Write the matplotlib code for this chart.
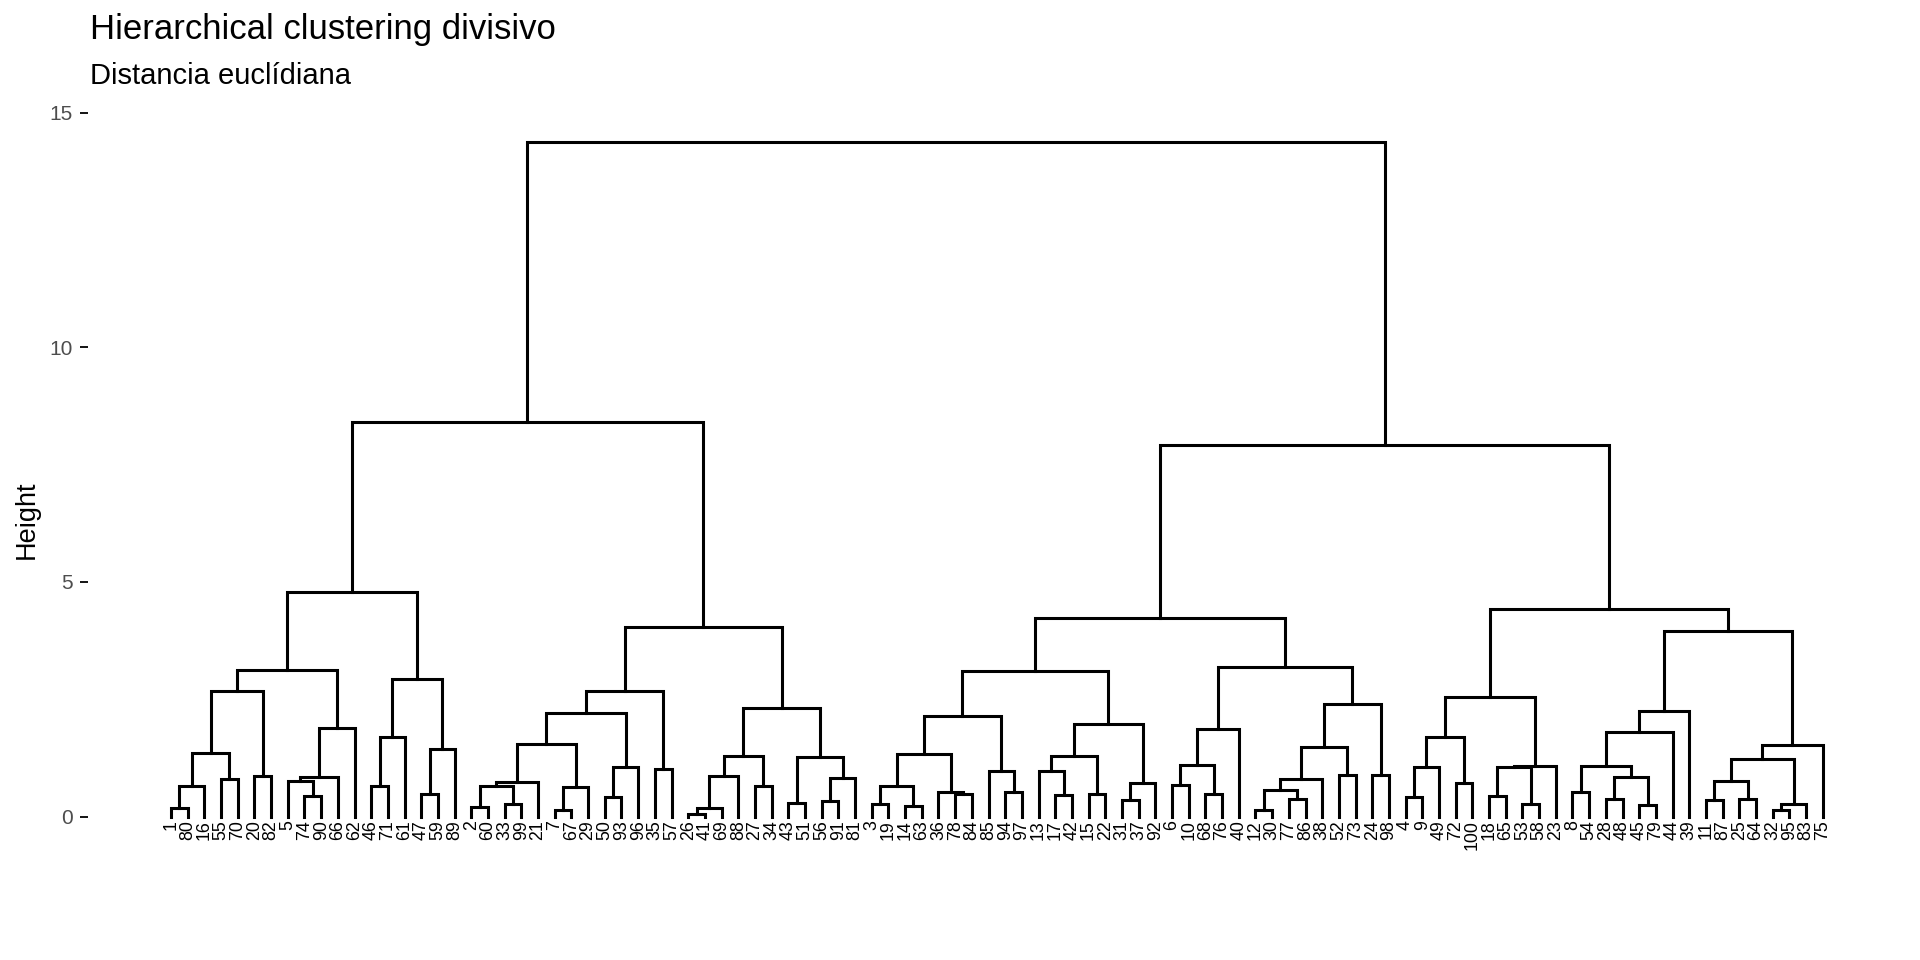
import matplotlib
matplotlib.use("Agg")
import matplotlib.pyplot as plt
import matplotlib.transforms as mtransforms

plt.rcParams['font.family'] = ['Liberation Sans', 'DejaVu Sans']

## Leaf labels, left to right
leaf_order = [1, 80, 16, 55, 70, 20, 82, 5, 74, 90, 66, 62, 46, 71, 61, 47, 59, 89,
              2, 60, 33, 99, 21, 7, 67, 29, 50, 93, 96, 35, 57, 26, 41, 69, 88, 27,
              34, 43, 51, 56, 91, 81, 3, 19, 14, 63, 36, 78, 84, 85, 94, 97, 13, 17,
              42, 15, 22, 31, 37, 92, 6, 10, 68, 76, 40, 12, 30, 77, 86, 38, 52, 73,
              24, 98, 4, 9, 49, 72, 100, 18, 65, 53, 58, 23, 8, 54, 28, 48, 45, 79,
              44, 39, 11, 87, 25, 64, 32, 95, 83, 75]

## Merge table (hclust style): negative = leaf label, positive = earlier row (1-based)
merge_a = [-1, 1, -55, 2, -20, 4, -74, -5, 8, 9, 6,
           -46, 12, -47, 14, 13, 11,
           -2, -33, 18, 20, -7, 22, 21, -50, 25, 24, -35, 27,
           -26, 30, 31, -27, 32, -43, -56, 36, 35, 34, 29, 17,
           -3, -14, 42, -78, -36, 44, -94, -85, 47,
           -17, -13, -15, 52, -31, 55, 54, 50,
           -6, -68, 59, 61,
           -12, -77, 63, 65, -52, 66, -24, 68, 62, 58,
           -4, 73, -72, 74, -18, -53, 77, 79, 76,
           -8, -28, -45, 83, 82, 86, 87,
           -11, -25, 89, -32, 92, 91, 94, 88, 81, 72, 41]
merge_b = [-80, -16, -70, 3, -82, 5, -90, 7, -66, -62, 10,
           -71, -61, -59, -89, 15, 16,
           -60, -99, 19, -21, -67, -29, 23, -93, -96, 26, -57, 28,
           -41, -69, -88, -34, 33, -51, -91, -81, 37, 38, 39, 40,
           -19, -63, 43, -84, 45, 46, -97, 48, 49,
           -42, 51, -22, 53, -37, -92, 56, 57,
           -10, -76, 60, -40,
           -30, -86, 64, -38, -73, 67, -98, 69, 70, 71,
           -9, -49, -100, 75, -65, -58, 78, -23, 80,
           -54, -48, -79, 84, 85, -44, -39,
           -87, -64, 90, -95, -83, 93, -75, 95, 96, 97, 98]
merge_h = [0.18, 0.64, 0.79, 1.36, 0.87, 2.67, 0.43, 0.75, 0.85, 1.89, 3.13,
           0.64, 1.69, 0.47, 1.43, 2.92, 4.79,
           0.20, 0.26, 0.64, 0.74, 0.13, 0.63, 1.55, 0.41, 1.05, 2.20, 1.02, 2.67,
           0.06, 0.19, 0.87, 0.65, 1.29, 0.29, 0.32, 0.82, 1.26, 2.32, 4.03, 8.40,
           0.26, 0.22, 0.64, 0.49, 0.53, 1.34, 0.53, 0.96, 2.15,
           0.45, 0.98, 0.49, 1.29, 0.36, 0.72, 1.98, 3.09,
           0.68, 0.47, 1.10, 1.87,
           0.14, 0.38, 0.57, 0.79, 0.89, 1.49, 0.89, 2.39, 3.18, 4.23,
           0.41, 1.06, 0.72, 1.70, 0.44, 0.27, 1.05, 1.08, 2.54,
           0.53, 0.38, 0.24, 0.84, 1.08, 1.79, 2.24,
           0.35, 0.38, 0.76, 0.13, 0.26, 1.22, 1.52, 3.96, 4.42, 7.91, 14.37]

title = "Hierarchical clustering divisivo"
subtitle = "Distancia euclídiana"


def _node_xy(ref, leaf_x, node_x):
    if ref < 0:
        return leaf_x[-ref], 0.0
    return node_x[ref - 1], merge_h[ref - 1]


def _plot_dendrogram(ax):
    leaf_x = {lab: i + 1 for i, lab in enumerate(leaf_order)}
    node_x = []
    for a, b, h in zip(merge_a, merge_b, merge_h):
        xa, ha = _node_xy(a, leaf_x, node_x)
        xb, hb = _node_xy(b, leaf_x, node_x)
        ax.plot([xa, xa, xb, xb], [ha, h, h, hb], color='black', lw=2.2,
                solid_joinstyle='miter', clip_on=False)
        node_x.append((xa + xb) / 2)

    ## Leaf labels hanging below zero
    trans = mtransforms.offset_copy(ax.transData, fig=ax.figure, y=-4,
                                    units='dots')
    for lab, x in leaf_x.items():
        ax.text(x, 0, str(lab), rotation=90, ha='center', va='top',
                fontsize=12.8, transform=trans, clip_on=False)


fig = plt.figure(figsize=(19.2, 9.6), dpi=100)
ax = fig.add_axes((88 / 1920, 1 - 816.5 / 960, (1905 - 88) / 1920, 704 / 960))
ax.set_xlim(1 - 83 / 16.684, 1 - 83 / 16.684 + (1905 - 88) / 16.684)
ax.set_ylim(0, 15)

_plot_dendrogram(ax)

## Axes styling
for side in ax.spines.values():
    side.set_visible(False)
ax.set_xticks([])
ax.set_yticks([0, 5, 10, 15])
ax.tick_params(axis='y', length=5.8, width=1.3, pad=5, labelsize=15,
               labelcolor='#4D4D4D', color='black')

fig.text(27 / 1920, 1 - 520 / 960, "Height", rotation=90, fontsize=19.5,
         ha='center', va='center')
fig.text(90 / 1920, 1 - 39 / 960, title, fontsize=25, ha='left',
         va='baseline')
fig.text(90 / 1920, 1 - 84 / 960, subtitle, fontsize=21, ha='left',
         va='baseline')

fig.savefig("out.png", dpi=100)
